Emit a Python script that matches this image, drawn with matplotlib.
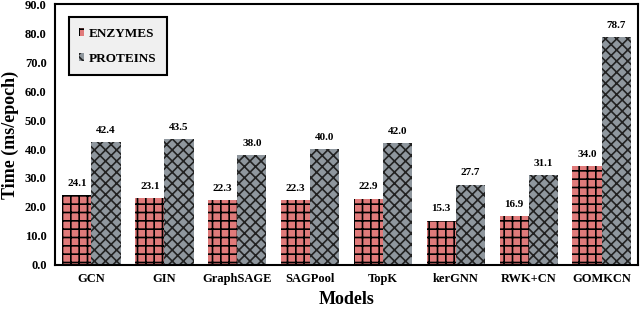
import numpy as np
import matplotlib.pyplot as plt

models = ['GCN', 'GIN', 'GraphSAGE', 'SAGPool', 'TopK', 'kerGNN', 'RWK+CN', 'GOMKCN']
enzymes = [24.1, 23.1, 22.3, 22.3, 22.9, 15.3, 16.9, 34.0]
proteins = [42.4, 43.5, 38.0, 40.0, 42.0, 27.7, 31.1, 78.7]

plt.rcParams['font.family'] = ['Liberation Serif']
plt.rcParams['font.weight'] = 'bold'
plt.rcParams['hatch.linewidth'] = 1.2

fig = plt.figure(figsize=(6.4, 3.11), dpi=100)
ax = fig.add_axes([0.086, 0.148, 0.911, 0.839])

x = np.arange(len(models))
w = 0.4
b1 = ax.bar(x - w/2, enzymes, w, color='#e07a7a', edgecolor='black', hatch='++',
            linewidth=0, label='ENZYMES')
b2 = ax.bar(x + w/2, proteins, w, color='#8f979e', edgecolor='#222222', hatch='xxx',
            linewidth=0, label='PROTEINS')

for xi, v in zip(x - w/2, enzymes):
    ax.text(xi, v + 2.5, f'{v:.1f}', ha='center', va='bottom', fontsize=8, fontweight='bold')
for xi, v in zip(x + w/2, proteins):
    ax.text(xi, v + 2.5, f'{v:.1f}', ha='center', va='bottom', fontsize=8, fontweight='bold')

ax.set_xlim(-0.5, 7.5)
ax.set_ylim(0, 90)
ax.set_yticks(np.arange(0, 91, 10))
ax.set_yticklabels([f'{t:.1f}' for t in np.arange(0, 91, 10)], fontsize=9, fontweight='bold')
ax.set_xticks(x)
ax.set_xticklabels(models, fontsize=9, fontweight='bold')
ax.tick_params(length=0, pad=6)
ax.set_xlabel('Models', fontsize=13, fontweight='bold', labelpad=4)
ax.set_ylabel('Time (ms/epoch)', fontsize=13, fontweight='bold', labelpad=4)
for s in ax.spines.values():
    s.set_linewidth(1.5)

leg = ax.legend(loc='upper left', bbox_to_anchor=(0.012, 0.975), fontsize=9.5,
                handlelength=0.4, handleheight=0.6, handletextpad=0.3,
                labelspacing=1.0, borderpad=0.8, fancybox=False,
                facecolor='#f0f0f0', edgecolor='black', framealpha=1)
leg.get_frame().set_linewidth(1.5)

fig.savefig('out.png', dpi=100)
